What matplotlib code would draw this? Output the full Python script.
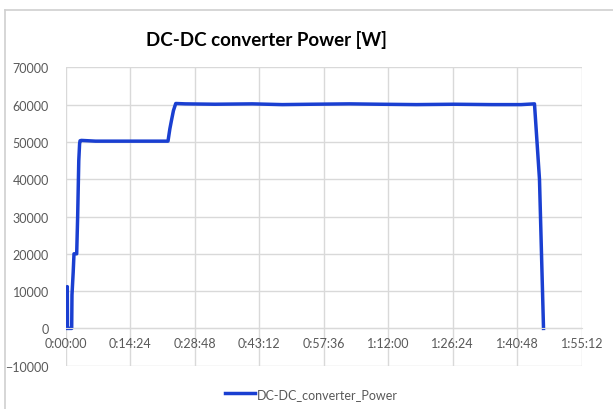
import matplotlib.pyplot as plt
from matplotlib.lines import Line2D
from matplotlib.ticker import FuncFormatter, MultipleLocator

# time in seconds, power in W
time_s = [0, 4, 15, 21, 24, 30, 60, 80, 84, 100, 111, 147, 160, 175, 186, 192,
          210, 400, 700, 1000, 1200, 1370, 1395, 1416, 1443, 1474, 1600, 2000,
          2500, 2900, 3300, 3800, 4200, 4700, 5200, 5700, 6100, 6279, 6346, 6400]
power_w = [0, 0, 0, 11200, 0, 0, 0, 0, 9000, 15000, 20000, 20000, 30000, 45000,
           49500, 50300, 50400, 50200, 50200, 50200, 50200, 50200, 53500, 55700,
           58400, 60300, 60200, 60100, 60200, 60000, 60100, 60200, 60100, 60000,
           60100, 60000, 60000, 60200, 40000, 0]

series_name = 'DC-DC_converter_Power'
title = 'DC-DC converter Power [W]'


def hms(x, pos):
    x = int(round(x))
    return f'{x // 3600}:{(x % 3600) // 60:02d}:{x % 60:02d}'


plt.rcParams['font.family'] = ['Lato', 'DejaVu Sans']

fig = plt.figure(figsize=(6.13, 4.10), dpi=100)
ax = fig.add_axes([0.1072, 0.1056, 0.949 - 0.1072, 0.8334 - 0.1056])

ax.plot(time_s, power_w, color='#1a3fd1', lw=2.5, solid_joinstyle='round',
        label=series_name)

ax.set_xlim(0, 6912)
ax.set_ylim(-10000, 70000)
ax.xaxis.set_major_locator(MultipleLocator(864))
ax.yaxis.set_major_locator(MultipleLocator(10000))
ax.xaxis.set_major_formatter(FuncFormatter(hms))

ax.grid(True, color='#d9d9d9', lw=1)
ax.set_axisbelow(True)
for s in ['top', 'right', 'left']:
    ax.spines[s].set_visible(False)
ax.spines['bottom'].set_position(('data', 0))
ax.spines['bottom'].set_color('#d9d9d9')
ax.tick_params(axis='both', length=0, labelsize=9, labelcolor='#595959')
ax.tick_params(axis='x', pad=6)
ax.tick_params(axis='y', pad=12)

fig.text(0.434, 0.902, title, ha='center', va='center', fontsize=13.5,
         fontweight='bold', color='#000000')

ax.legend(loc='center', bbox_to_anchor=(0.508, 0.037),
          bbox_transform=fig.transFigure, frameon=False, fontsize=9,
          handlelength=2.4, handletextpad=0.1, labelcolor='#595959')

# chart border (only top and left edges are visible)
fig.add_artist(Line2D([5 / 613, 1], [1 - 11 / 410] * 2, transform=fig.transFigure,
                      color='#d0d0d0', lw=1.2))
fig.add_artist(Line2D([5 / 613] * 2, [0, 1 - 11 / 410], transform=fig.transFigure,
                      color='#d0d0d0', lw=1.2))

fig.savefig('out.png', dpi=100)
